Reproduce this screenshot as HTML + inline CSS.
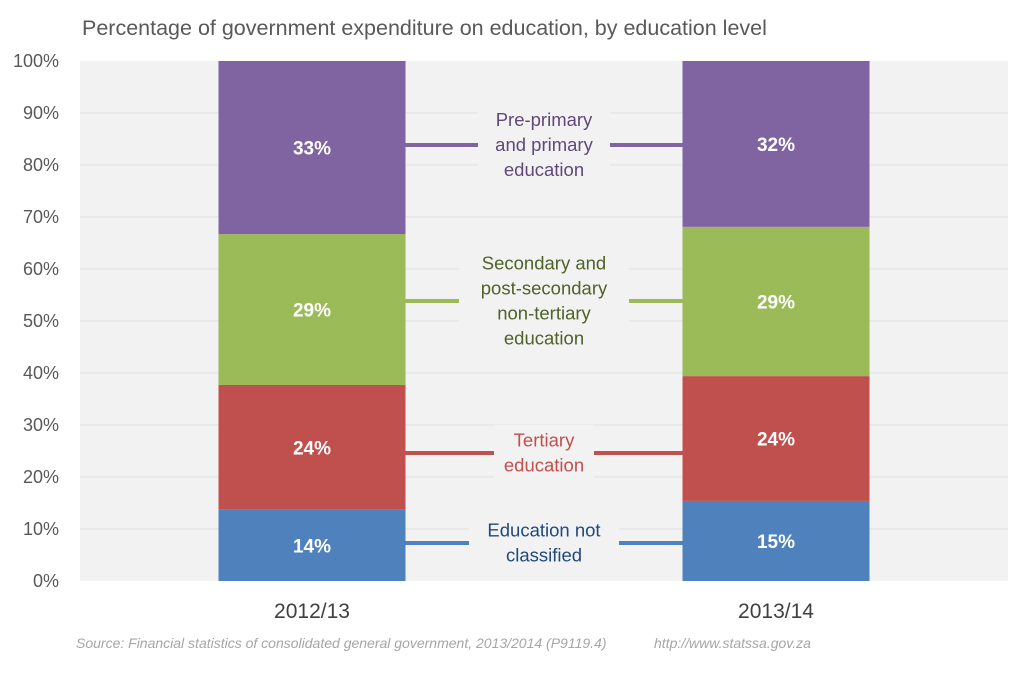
<!DOCTYPE html>
<html><head><meta charset="utf-8"><style>
body{margin:0;background:#fff;font-family:"Liberation Sans",sans-serif}
</style></head><body>
<svg width="1024" height="668" xmlns="http://www.w3.org/2000/svg" id="chart" font-family="Liberation Sans, sans-serif">
<text x="82" y="35" font-size="21.5" fill="#595959">Percentage of government expenditure on education, by education level</text>
<rect x="80" y="61" width="928" height="520" fill="#f2f2f2"/>
<g id="grid"></g><g id="bars"></g><g id="ann"></g>
<text x="76" y="648" font-size="14" font-style="italic" fill="#a6a6a6">Source: Financial statistics of consolidated general government, 2013/2014 (P9119.4)</text>
<text x="654" y="648" font-size="14" font-style="italic" fill="#a6a6a6">http://www.statssa.gov.za</text>
</svg>
<script>
const categories=["2012/13","2013/14"];
const seriesNames=["Education not classified","Tertiary education","Secondary and post-secondary non-tertiary education","Pre-primary and primary education"];
const notClassified=[13.7,15.4];
const tertiary=[24.0,24.0];
const secondary=[29.0,28.7];
const primary=[33.3,31.9];
const printed=[["14%","24%","29%","33%"],["15%","24%","29%","32%"]];
const ticks=[0,10,20,30,40,50,60,70,80,90,100];
const colors=["#4f81bd","#c0504d","#9bbb59","#8064a2"];
const series=[notClassified,tertiary,secondary,primary];
const X0=80,X1=1008,Y0=581,Y1=61;
const y=v=>Y0-(v/100)*(Y0-Y1);
const band=(X1-X0)/categories.length;
const xc=i=>X0+band*(i+0.5);
const bw=187;
const NS="http://www.w3.org/2000/svg";
function mk(tag,attrs,parent,text){const e=document.createElementNS(NS,tag);for(const k in attrs)e.setAttribute(k,attrs[k]);if(text!==undefined)e.textContent=text;parent.appendChild(e);return e;}
const grid=document.getElementById('grid'),bars=document.getElementById('bars'),ann=document.getElementById('ann');
ticks.forEach(t=>{
 if(t>0&&t<100){const l=mk('line',{x1:X0,x2:X1,y1:y(t),y2:y(t),stroke:'#e0e0e0','stroke-width':1},grid);
 
 }
 const tx=mk('text',{x:59,y:y(t)+6,'text-anchor':'end','font-size':18,fill:'#595959'},grid,t+'%');
 
 
});
categories.forEach((c,i)=>{
 let acc=0;
 series.forEach((s,j)=>{
  const v=s[i];
  const r=mk('rect',{x:xc(i)-bw/2,y:y(acc+v),width:bw,height:y(acc)-y(acc+v),fill:colors[j]},bars);
  
  
  const t=mk('text',{x:xc(i),y:(y(acc)+y(acc+v))/2+7,'text-anchor':'middle','font-size':19,'font-weight':'bold',fill:'#fff'},bars,printed[i][j]);
  
  
  acc+=v;
 });
 const cl=mk('text',{x:xc(i),y:618,'text-anchor':'middle','font-size':21,fill:'#404040'},bars,c);
 
 
});
const annos=[
 {ly:543,lines:["Education not","classified"],w:150,c:"#4f81bd",tc:"#1f497d"},
 {ly:453,lines:["Tertiary","education"],w:100,c:"#c0504d",tc:"#c0504d"},
 {ly:301,lines:["Secondary and","post-secondary","non-tertiary","education"],w:170,c:"#9bbb59",tc:"#4f6228"},
 {ly:145,lines:["Pre-primary","and primary","education"],w:132,c:"#8064a2",tc:"#5f497a"}];
const mx=(xc(0)+xc(1))/2;
annos.forEach(a=>{
 const l=mk('line',{x1:xc(0)+bw/2,x2:xc(1)-bw/2,y1:a.ly,y2:a.ly,stroke:a.c,'stroke-width':4},ann);
 
 
 const h=a.lines.length*25+6;
 const b=mk('rect',{x:mx-a.w/2,y:a.ly-h/2,width:a.w,height:h,fill:'#f2f2f2'},ann);
 
 
 a.lines.forEach((s,k)=>{
  const t=mk('text',{x:mx,y:a.ly-(a.lines.length-1)*12.5+k*25+6,'text-anchor':'middle','font-size':18.5,fill:a.tc},ann,s);
  
  
 });
});
</script>
</body></html>
